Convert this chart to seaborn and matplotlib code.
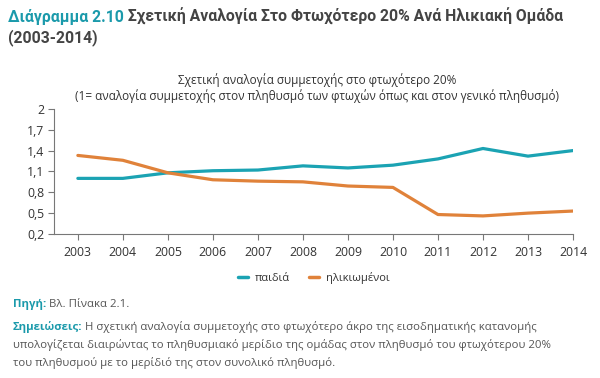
import matplotlib
matplotlib.use("Agg")
import matplotlib.pyplot as plt
import seaborn as sns
import pandas as pd
from matplotlib.ticker import FuncFormatter
from matplotlib.lines import Line2D

years = [2003, 2004, 2005, 2006, 2007, 2008, 2009, 2010, 2011, 2012, 2013, 2014]
children = [1.00, 1.00, 1.08, 1.11, 1.12, 1.18, 1.15, 1.19, 1.28, 1.43, 1.32, 1.40]
elderly = [1.33, 1.26, 1.08, 0.98, 0.96, 0.95, 0.89, 0.87, 0.48, 0.46, 0.50, 0.53]
series_names = ["παιδιά", "ηλικιωμένοι"]
yticks = [0.2, 0.5, 0.8, 1.1, 1.4, 1.7, 2.0]

TEAL = "#1ba3b3"
ORANGE = "#e0823a"
DARK = "#444444"

df = pd.DataFrame({
    "year": years * 2,
    "value": children + elderly,
    "group": [series_names[0]] * len(years) + [series_names[1]] * len(years),
})

sns.set_theme(style="white")
plt.rcParams["font.family"] = ["Open Sans", "DejaVu Sans"]

fig = plt.figure(figsize=(6, 3.78), dpi=100)
ax = fig.add_axes([0.09, 0.381, 0.865, 0.331])

sns.lineplot(data=df, x="year", y="value", hue="group", hue_order=series_names,
             palette=[TEAL, ORANGE], linewidth=2.3, ax=ax, legend=False)

ax.set_xlim(2002.47, 2014)
ax.set_ylim(0.2, 2.0)
ax.set_xticks(years)
ax.set_yticks(yticks)
ax.yaxis.set_major_formatter(FuncFormatter(lambda v, p: (f"{v:.1f}".rstrip("0").rstrip(".")).replace(".", ",")))
ax.set_xlabel("")
ax.set_ylabel("")
for s in ["top", "right"]:
    ax.spines[s].set_visible(False)
for s in ["left", "bottom"]:
    ax.spines[s].set_color("#777777")
    ax.spines[s].set_linewidth(0.8)
ax.tick_params(axis="both", which="major", length=4, width=0.8, color="#777777",
               labelsize=8.8, labelcolor="#333333", left=True, bottom=True)
ax.tick_params(axis="x", pad=5)
ax.tick_params(axis="y", pad=3)

# legend
handles = [Line2D([0], [0], color=TEAL, lw=2.5), Line2D([0], [0], color=ORANGE, lw=2.5)]
leg = fig.legend(handles, series_names, loc="center", bbox_to_anchor=(0.523, 0.265), ncol=2,
                 frameon=False, handlelength=0.9, handletextpad=0.6, columnspacing=1.7,
                 prop={"size": 8})
for t in leg.get_texts():
    t.set_color("#333333")

# title (fit to the reference width)
title_fs = 11.5
tfam = ["Roboto", "DejaVu Sans"]
t1 = fig.text(8 / 600, 1 - 25 / 378, "Διάγραμμα 2.10", fontsize=title_fs, fontweight="bold",
              color="#1b9aab", va="bottom", ha="left", family=tfam)
t2 = ax.annotate(" Σχετική Αναλογία Στο Φτωχότερο 20% Ανά Ηλικιακή Ομάδα", xy=(1, 0), xycoords=t1,
                 fontsize=title_fs, fontweight="bold", color=DARK, va="bottom", ha="left",
                 annotation_clip=False, family=tfam)
t3 = fig.text(8 / 600, 1 - 46 / 378, "(2003-2014)", fontsize=title_fs, fontweight="bold", color=DARK,
              va="bottom", ha="left", family=tfam)
r = fig.canvas.get_renderer()
w = t1.get_window_extent(r).width + t2.get_window_extent(r).width
scale = 557.0 / w
for t in (t1, t2, t3):
    t.set_fontsize(title_fs * scale)

# subtitle
fig.text(0.528, 1 - 80 / 378, "Σχετική αναλογία συμμετοχής στο φτωχότερο 20%",
         fontsize=8.5, color="#333333", ha="center", va="center")
fig.text(0.528, 1 - 96 / 378,
         "(1= αναλογία συμμετοχής στον πληθυσμό των φτωχών όπως και στον γενικό πληθυσμό)",
         fontsize=8.5, color="#333333", ha="center", va="center")

# source
s1 = fig.text(13 / 600, 1 - 310 / 378, "Πηγή:", fontsize=8.2, fontweight="bold", color="#1b9aab",
              va="bottom", ha="left")
ax.annotate(" Βλ. Πίνακα 2.1.", xy=(1, 0), xycoords=s1, fontsize=8.2, color="#555555",
            va="bottom", ha="left", annotation_clip=False)

n1 = fig.text(13 / 600, 1 - 333 / 378, "Σημειώσεις:", fontsize=8.2, fontweight="bold",
              color="#1b9aab", va="bottom", ha="left")
ax.annotate(" Η σχετική αναλογία συμμετοχής στο φτωχότερο άκρο της εισοδηματικής κατανομής",
            xy=(1, 0), xycoords=n1, fontsize=8.2, color="#555555", va="bottom", ha="left",
            annotation_clip=False)
fig.text(13 / 600, 1 - 351 / 378,
         "υπολογίζεται διαιρώντας το πληθυσμιακό μερίδιο της ομάδας στον πληθυσμό του φτωχότερου 20%",
         fontsize=8.2, color="#555555", va="bottom", ha="left")
fig.text(13 / 600, 1 - 369 / 378,
         "του πληθυσμού με το μερίδιό της στον συνολικό πληθυσμό.",
         fontsize=8.2, color="#555555", va="bottom", ha="left")

fig.savefig("out.png", dpi=100)
